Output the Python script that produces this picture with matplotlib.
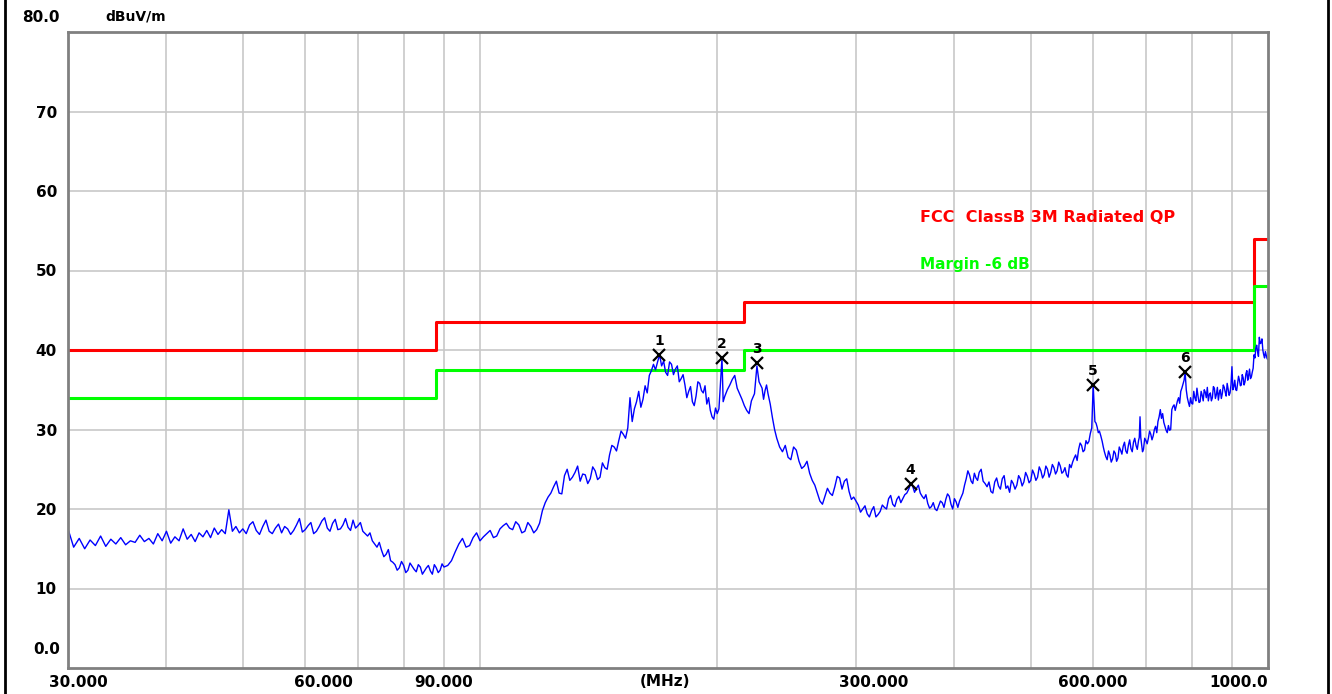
import matplotlib.pyplot as plt
from matplotlib.transforms import ScaledTranslation

freq = [30.0, 30.5, 31.0, 31.5, 32.0, 32.5, 33.0, 33.5, 34.0, 34.5, 35.0, 35.5, 36.0, 36.5,
        37.0, 37.5, 38.0, 38.5, 39.0, 39.5, 40.0, 40.5, 41.0, 41.5, 42.0, 42.5, 43.0, 43.5,
        44.0, 44.5, 45.0, 45.5, 46.0, 46.5, 47.0, 47.5, 48.0, 48.5, 49.0, 49.5, 50.0,
        51, 52, 53, 54, 55, 56, 57, 58, 59, 60, 61, 62, 63, 64, 65, 66, 67, 68, 69, 70,
        71, 72, 73, 74, 75, 76, 77, 78, 79, 80, 81, 82, 83, 84, 85, 86, 87, 88, 89, 90,
        92, 94, 96, 98, 100, 102, 104, 106, 108, 110, 112, 114, 116, 118, 120, 122, 124,
        126, 128, 130, 132, 134, 136, 138, 140, 142, 144, 146, 148, 150, 152, 154, 155,
        156, 158, 160, 162, 164, 166, 168, 169, 170, 172, 174, 176, 178, 180, 182, 184,
        186, 188, 190, 192, 194, 196, 198, 200, 201, 202.8, 203.5, 206, 209, 212, 215,
        218, 221, 224.6, 226, 228, 230, 232, 235, 238, 242, 246, 250, 254, 258, 262, 266,
        270, 274, 278, 282, 286, 290, 294, 298, 302, 306, 310, 314, 318, 322, 326, 330,
        334, 338, 342, 346, 350, 354, 358, 362, 366, 370, 374, 378, 382, 386, 390, 394,
        398, 402, 406, 410, 414, 418, 422, 426, 430, 435, 440, 445, 450, 455, 460, 465,
        470, 475, 480, 485, 490, 495, 500, 505, 510, 515, 520, 525, 530, 535, 540, 545,
        550, 555, 560, 565, 570, 575, 580, 585, 590, 595, 600, 603, 607, 611, 616, 620,
        625, 630, 635, 640, 645, 650, 655, 660, 665, 670, 675, 680, 685, 688, 691, 695,
        700, 705, 710, 715, 720, 725, 730, 735, 740, 745, 750, 755, 760, 765, 770, 775,
        780, 785, 790, 795, 800, 805, 810, 815, 820, 825, 830, 835, 840, 845, 850, 855,
        860, 865, 870, 875, 880, 885, 890, 895, 900, 905, 910, 915, 920, 925, 930, 935,
        940, 945, 950, 955, 960, 965, 970, 975, 980, 985, 990, 995, 1000]
level = [17.5, 15.2, 16.3, 15.0, 16.1, 15.4, 16.6, 15.3, 16.2, 15.6, 16.4, 15.5, 16.0, 15.8,
         16.7, 15.9, 16.3, 15.6, 16.9, 16.0, 17.2, 15.7, 16.5, 16.0, 17.5, 16.2, 16.8, 15.9,
         17.0, 16.5, 17.3, 16.4, 17.6, 16.8, 17.4, 16.9, 19.9, 17.2, 17.8, 17.0, 17.5,
         18.0, 17.3, 17.8, 17.2, 17.6, 17.0, 17.5, 17.3, 18.8, 17.4, 18.3, 17.2, 18.5, 17.6,
         18.2, 17.4, 18.0, 17.7, 18.6, 17.9,
         17.2, 16.6, 16.0, 15.2, 14.8, 14.3, 13.5, 13.0, 12.6, 12.9, 12.3, 12.8, 12.1, 12.7,
         12.2, 12.9, 11.8, 12.6, 12.3, 12.7,
         13.5, 15.6, 15.2, 16.4, 16.0, 16.9, 16.4, 17.5, 18.2, 17.4, 18.0, 17.2, 17.8, 17.4,
         19.8, 21.5, 22.8, 22.0, 24.2, 23.6, 24.6, 23.5, 24.3, 23.8, 24.8, 24.0, 25.2, 26.8,
         27.8, 28.6, 29.4, 30.2, 34.0, 31.0, 33.5, 32.8, 35.5, 36.8, 38.2, 38.5, 39.4, 38.0,
         37.2, 38.5, 36.9, 38.0, 36.4, 35.6, 34.8, 33.5, 34.2, 35.8, 34.6, 33.2, 32.4, 31.3,
         32.0, 32.6, 39.0, 33.5, 35.0, 36.3, 35.2, 33.8, 32.4, 33.6, 38.0, 36.0, 35.2, 34.9,
         34.5, 31.5, 28.9, 27.2, 26.5, 27.8, 26.0, 25.4, 24.5, 23.0, 21.0, 21.6, 22.0, 22.8,
         23.9, 23.5, 22.2, 21.5, 20.5, 20.0, 19.4, 19.8, 19.0, 19.7, 20.2, 21.3, 20.6, 21.2,
         20.8, 21.8, 22.5, 22.9, 22.6, 22.0, 21.3, 20.7, 20.3, 20.0, 20.4, 20.8, 21.2, 21.6,
         20.0, 20.9, 21.0, 22.0, 23.8, 24.3, 23.2, 23.9, 24.6, 23.5, 22.8, 22.2, 23.4, 22.9,
         23.8, 22.6, 22.1, 23.2, 23.0, 23.8, 23.4, 24.1, 23.6, 24.4, 24.0, 24.8, 24.3, 25.0,
         24.6, 25.2, 24.8, 25.4, 24.7, 24.3, 25.6, 25.9, 26.8, 27.5, 28.0, 27.4, 28.2, 29.5,
         35.6, 31.0, 30.3, 29.8, 28.5, 27.2, 26.2, 26.8, 26.3, 27.0, 26.4, 27.4, 27.9, 27.3,
         28.0, 27.6, 28.4, 28.0, 28.6, 31.6, 28.2, 27.5, 28.6, 28.9, 29.4, 29.2, 30.4, 31.0,
         32.5, 32.0, 30.4, 29.6, 29.9, 32.5, 33.1, 33.0, 34.0, 34.8, 35.7, 37.2, 34.0, 32.9,
         33.3, 34.8, 33.6, 34.2, 33.5, 34.3, 35.0, 34.0, 33.6, 34.6, 34.0, 35.2, 34.4, 33.7,
         35.0, 34.5, 35.3, 34.2, 35.1, 34.6, 37.9, 35.4, 35.0, 35.8, 36.2, 35.6, 36.5, 36.0,
         37.4, 36.8, 36.4, 37.2, 39.4, 40.2, 39.8, 41.6, 40.9, 40.0, 39.0, 39.3, 38.8]

# extra trace samples between the ones above (same sweep, finer read)
freq_fill = [50.5, 51.5, 52.5, 53.5, 54.5, 55.5, 56.5, 57.5, 58.5, 59.5, 60.5, 61.5, 62.5,
             63.5, 64.5, 65.5, 66.5, 67.5, 68.5, 69.5, 70.5, 71.5, 72.5, 73.5, 74.5, 75.5,
             76.5, 77.5, 78.5, 79.5, 80.5, 81.5, 82.5, 83.5, 84.5, 85.5, 86.5, 87.5, 88.5,
             89.5,
             91, 93, 95, 97, 99, 101, 103, 105, 107, 109, 111, 113, 115, 117, 119, 121, 123,
             125, 127, 129, 131, 133, 135, 137, 139, 141, 143, 145, 147, 149, 151, 153, 157,
             159, 161, 163, 165, 167, 171, 173, 175, 177, 179, 181, 183, 185, 187, 189, 191,
             193, 195, 197, 199,
             204.5, 207.5, 210.5, 213.5, 216.5, 219.5, 223, 229, 231, 233.5, 236.5, 240,
             244, 248, 252, 256, 260, 264, 268, 272, 276, 280, 284, 288, 292, 296, 300, 304,
             308, 312, 316, 320, 324, 328, 332, 336, 340, 344, 348, 352, 356, 360, 364, 368,
             372, 376, 380, 384, 388, 392, 396, 400, 404, 408,
             412, 416, 420, 424, 428, 432.5, 437.5, 442.5, 447.5, 452.5, 457.5, 462.5, 467.5,
             472.5, 477.5, 482.5, 487.5, 492.5, 497.5, 502.5, 507.5, 512.5, 517.5, 522.5,
             527.5, 532.5, 537.5, 542.5, 547.5, 552.5, 557.5, 562.5, 567.5, 572.5, 577.5,
             582.5, 587.5, 592.5, 597.5, 605, 609, 613.5, 618, 622.5, 627.5, 632.5, 637.5,
             642.5, 647.5, 652.5, 657.5, 662.5, 667.5, 672.5, 677.5, 682.5, 686.5, 689.5,
             693, 697.5, 702.5, 707.5, 712.5, 717.5, 722.5, 727.5, 732.5, 737.5, 742.5,
             747.5, 752.5, 757.5, 762.5, 767.5, 772.5, 777.5, 782.5, 787.5, 792.5, 797.5,
             802.5, 807.5, 812.5, 817.5, 822.5, 827.5, 832.5, 837.5, 842.5, 847.5, 852.5,
             857.5, 862.5, 867.5, 872.5, 877.5, 882.5, 887.5, 892.5, 897.5, 902.5, 907.5,
             912.5, 917.5, 922.5, 927.5, 932.5, 937.5, 942.5, 947.5, 952.5, 957.5, 962.5,
             967.5, 972.5, 977.5, 982.5, 987.5, 992.5, 997.5]
level_fill = [16.9, 18.4, 16.8, 18.6, 16.9, 18.1, 17.8, 16.8, 18.0, 17.1, 17.9, 16.9, 17.8,
              18.9, 17.2, 18.7, 17.5, 18.8, 17.3, 17.6, 18.3, 16.9, 17.0, 15.6, 15.8, 14.0,
              14.9, 13.3, 12.3, 13.4, 12.0, 13.2, 12.4, 13.0, 11.8, 12.6, 12.2, 13.0, 12.0,
              13.1,
              12.9, 14.6, 16.3, 15.4, 17.0, 16.5, 17.3, 16.6, 17.9, 17.6, 18.4, 17.0, 18.3,
              17.0, 18.2, 20.8, 22.0, 23.5, 21.9, 25.0, 24.0, 25.4, 24.4, 23.2, 25.3, 23.7,
              25.8, 25.0, 28.0, 27.3, 29.8, 28.9, 32.6, 34.8, 33.8, 34.6, 37.4, 37.5, 38.6,
              36.8, 38.2, 37.6, 36.0, 36.9, 34.0, 35.4, 33.0, 36.0, 34.9, 35.5, 34.0, 31.6,
              32.7,
              34.2, 35.6, 36.8, 34.5, 33.0, 32.0, 34.5, 33.8, 35.6, 33.2, 30.0, 27.8, 28.0,
              26.2, 27.4, 25.1, 26.0, 23.6, 22.0, 20.6, 22.6, 21.7, 24.1, 22.5, 23.8, 21.2,
              21.0, 19.6, 20.4, 19.0, 20.3, 19.3, 20.5, 20.0, 21.7, 20.3, 21.6, 21.3, 22.0,
              23.2, 22.1, 23.0, 21.6, 21.8, 20.1, 20.8, 19.8, 21.0, 20.2, 21.9, 20.6, 21.3,
              20.2, 21.5,
              23.0, 24.8, 23.5, 24.5, 23.6, 25.0, 23.2, 23.4, 22.0, 23.9, 22.5, 24.2, 22.9,
              23.6, 22.5, 24.2, 22.9, 24.6, 23.3, 24.9, 23.6, 25.3, 23.9, 25.4, 24.0, 25.6,
              24.4, 25.9, 24.5, 25.2, 24.0, 25.2, 26.4, 26.1, 28.3, 27.2, 28.6, 28.5, 30.2,
              30.8, 29.6, 29.2, 27.8, 26.6, 27.3, 25.9, 27.3, 26.0, 27.8, 26.9, 28.4, 27.0,
              28.7, 27.2, 28.9, 27.5, 29.0, 29.0, 27.2, 28.9, 28.2, 29.8, 28.7, 30.0, 29.6,
              31.6, 31.4, 30.9, 29.9, 30.5, 30.0, 32.9, 32.4, 33.6, 33.3, 35.2, 36.2, 35.0,
              33.4, 34.0, 33.2, 34.0, 35.2, 33.4, 34.8, 33.6, 34.7, 35.3, 34.4, 33.6, 35.4,
              33.9, 35.3, 34.6, 33.9, 35.6, 34.7, 35.8, 34.3, 35.6, 35.0, 36.2, 34.9, 36.7,
              35.5, 36.9, 35.6, 37.0, 36.2, 37.6, 36.6, 37.7, 39.0, 40.6, 39.2, 40.8, 41.4,
              39.4, 39.8, 38.9]

# limit lines
lim_freq = [30, 88, 216, 960, 1000]
lim_fcc = [40, 43.5, 46, 54, 54]
lim_margin = [34, 37.5, 40, 48, 48]

# peak markers
mk_freq = [168.7, 202.8, 224.6, 352.0, 599.8, 784.6]
mk_level = [39.4, 39.0, 38.4, 23.1, 35.6, 37.2]
mk_names = ['1', '2', '3', '4', '5', '6']

x_ticks = [30, 60, 90, 300, 600, 1000]
x_labels = ['30.000', '60.000', '90.000', '300.000', '600.000', '1000.0']
y_ticks = [10, 20, 30, 40, 50, 60, 70]
x_grid = [40, 50, 60, 70, 80, 90, 100, 200, 300, 400, 500, 600, 700, 800, 900]

trace = sorted(zip(freq + freq_fill, level + level_fill))
tr_f = [p[0] for p in trace]
tr_l = [p[1] for p in trace]

plt.rcParams['font.family'] = 'DejaVu Sans'
plt.rcParams['font.weight'] = 'bold'

fig = plt.figure(figsize=(13.32, 6.94), dpi=100)
ax = fig.add_axes([68/1332, 26/694, 1200/1332, 636/694])

ax.set_xscale('log')
ax.set_xlim(30, 1000)
ax.set_ylim(0, 80)

for g in x_grid:
    ax.axvline(g, color='#c8c8c8', lw=1.2, zorder=0)
for g in y_ticks:
    ax.axhline(g, color='#c8c8c8', lw=1.2, zorder=0)

ax.step(lim_freq, lim_fcc, where='post', color='#ff0000', lw=2.2)
ax.step(lim_freq, lim_margin, where='post', color='#00ff00', lw=2.2)
ax.plot(tr_f, tr_l, color='#0000ff', lw=1)

ax.plot(mk_freq, mk_level, 'x', color='black', ms=9, mew=1.6)
for f, l, n in zip(mk_freq, mk_level, mk_names):
    ax.annotate(n, (f, l), xytext=(0, 5), textcoords='offset points',
                ha='center', va='bottom', fontsize=10, fontweight='bold')

ax.text(0.71, 0.708, 'FCC  ClassB 3M Radiated QP', transform=ax.transAxes,
        color='#ff0000', fontsize=11.5, fontweight='bold', va='center')
ax.text(0.71, 0.634, 'Margin -6 dB', transform=ax.transAxes,
        color='#00ff00', fontsize=11, fontweight='bold', va='center')

ax.minorticks_off()
ax.set_xticks(x_ticks)
ax.set_xticklabels(x_labels)
ax.set_yticks(y_ticks)
ax.set_yticklabels([str(t) for t in y_ticks])
ax.tick_params(length=0, labelsize=11, pad=5)
ax.tick_params(axis='y', pad=8)
for lab in ax.get_xticklabels():
    lab.set_fontweight('bold')
    if lab.get_text() == '1000.0':
        lab.set_horizontalalignment('right')
    elif lab.get_text() == '30.000':
        lab.set_transform(lab.get_transform() + ScaledTranslation(0.1, 0, fig.dpi_scale_trans))
    elif lab.get_text() in ('60.000', '300.000'):
        lab.set_transform(lab.get_transform() + ScaledTranslation(0.18, 0, fig.dpi_scale_trans))
for lab in ax.get_yticklabels():
    lab.set_fontweight('bold')

ax.annotate('80.0', (0, 80), xycoords=('axes fraction', 'data'), xytext=(-8, 14),
            textcoords='offset pixels', ha='right', va='center', fontsize=11, fontweight='bold')
ax.annotate('0.0', (0, 0), xycoords=('axes fraction', 'data'), xytext=(-8, 18),
            textcoords='offset pixels', ha='right', va='center', fontsize=11, fontweight='bold')
ax.annotate('dBuV/m', (0.056, 80), xycoords=('axes fraction', 'data'), xytext=(0, 15),
            textcoords='offset pixels', ha='center', va='center', fontsize=10, fontweight='bold')
ax.annotate('(MHz)', (0.5, 0), xycoords='axes fraction', xytext=(-3, -13),
            textcoords='offset pixels', ha='center', va='center', fontsize=11, fontweight='bold')

for s in ax.spines.values():
    s.set_color('#808080')
    s.set_linewidth(2)

# outer frame lines of the window
fig.add_artist(plt.Line2D([5/1332, 5/1332], [0, 1], color='black', lw=2))
fig.add_artist(plt.Line2D([1328/1332, 1328/1332], [0, 1], color='black', lw=2))

fig.savefig('out.png', dpi=100)
